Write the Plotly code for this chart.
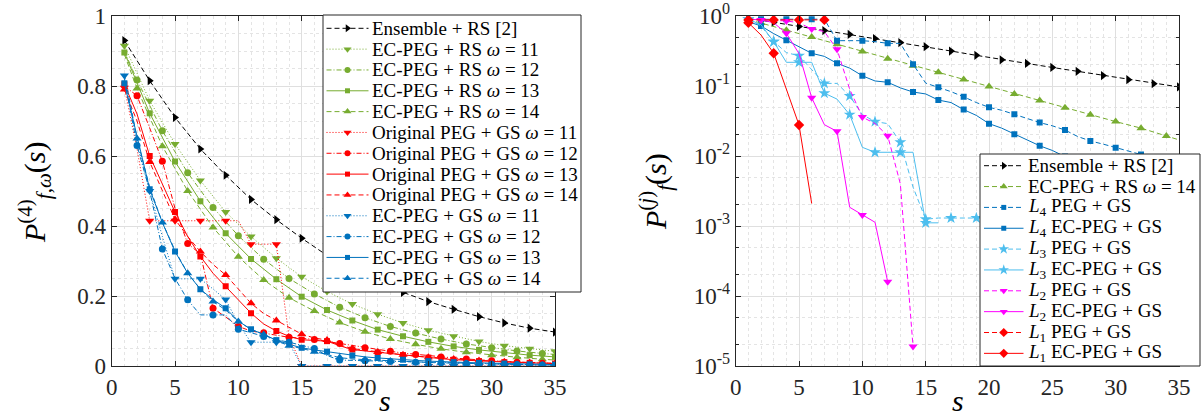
import plotly.graph_objects as go

# ---------------- data ----------------
S_FULL = list(range(1, 36))
S_ODD = list(range(1, 36, 2))
S_EVEN_ENDS = [1] + list(range(2, 35, 2)) + [35]

# Ensemble + RS [2]
ens_x = S_ODD
ens_y = [0.93, 0.815, 0.71, 0.62, 0.545, 0.476, 0.418, 0.365, 0.316, 0.274,
         0.237, 0.21, 0.184, 0.162, 0.141, 0.123, 0.108, 0.097]

# EC-PEG + RS
rs11_x = S_ODD
rs11_y = [0.915, 0.758, 0.634, 0.53, 0.44, 0.37, 0.308, 0.255, 0.213, 0.177,
          0.148, 0.123, 0.102, 0.085, 0.07, 0.058, 0.049, 0.042]
rs12_x = S_EVEN_ENDS
rs12_y = [0.90, 0.817, 0.672, 0.552, 0.453, 0.372, 0.305, 0.25, 0.206, 0.168,
          0.138, 0.113, 0.094, 0.077, 0.063, 0.052, 0.043, 0.036, 0.033]
rs13_x = S_ODD
rs13_y = [0.896, 0.722, 0.584, 0.471, 0.379, 0.306, 0.248, 0.198, 0.16, 0.13,
          0.104, 0.085, 0.069, 0.056, 0.046, 0.038, 0.031, 0.026]
rs14_x = S_EVEN_ENDS
rs14_y = [0.89, 0.793, 0.628, 0.5, 0.396, 0.312, 0.246, 0.195, 0.157, 0.124,
          0.098, 0.077, 0.062, 0.049, 0.039, 0.031, 0.025, 0.0193, 0.017]

# Original PEG + GS
og11_y = [0.795, 0.62, 0.415, 0.415, 0.415, 0.415, 0.415, 0.415, 0.415, 0.415,
          0.348, 0.348, 0.348, 0.085, 0, 0, 0, 0, 0, 0,
          0, 0, 0, 0, 0, 0, 0, 0, 0, 0, 0, 0, 0, 0, 0]
og12_y = [0.8, 0.772, 0.68, 0.585, 0.45, 0.35, 0.32, 0.165, 0.14, 0.113,
          0.1, 0.095, 0.088, 0.082, 0.079, 0.076, 0.07, 0.064, 0.058, 0.052,
          0.047, 0.042, 0.037, 0.033, 0.03, 0.026, 0.023, 0.02, 0.017, 0.015,
          0.013, 0.011, 0.009, 0.008, 0.007]
og13_y = [0.805, 0.72, 0.6, 0.52, 0.44, 0.37, 0.313, 0.265, 0.228, 0.19,
          0.151, 0.12, 0.1, 0.085, 0.075, 0.073, 0.071, 0.058, 0.047, 0.043,
          0.039, 0.035, 0.031, 0.027, 0.024, 0.021, 0.018, 0.016, 0.014, 0.012,
          0.011, 0.01, 0.009, 0.008, 0.007]
og14_y = [0.79, 0.7, 0.583, 0.5, 0.419, 0.37, 0.327, 0.29, 0.26, 0.22,
          0.179, 0.15, 0.13, 0.11, 0.091, 0.08, 0.074, 0.06, 0.05, 0.045,
          0.04, 0.036, 0.032, 0.028, 0.025, 0.022, 0.02, 0.018, 0.016, 0.014,
          0.012, 0.011, 0.01, 0.009, 0.008]

# EC-PEG + GS
gs11_y = [0.83, 0.64, 0.5, 0.37, 0.249, 0.249, 0.249, 0.22, 0.19, 0.12,
          0.068, 0.068, 0.068, 0.065, 0, 0, 0, 0, 0, 0,
          0, 0, 0, 0, 0, 0, 0, 0, 0, 0, 0, 0, 0, 0, 0]
gs12_y = [0.82, 0.63, 0.5, 0.334, 0.25, 0.189, 0.146, 0.146, 0.146, 0.105,
          0.095, 0.084, 0.075, 0.068, 0.058, 0.05, 0.03, 0.017, 0.016, 0.015,
          0.014, 0.013, 0.012, 0.011, 0.01, 0.009, 0.008, 0.007, 0.006, 0.005,
          0.005, 0.004, 0.004, 0.003, 0.003]
gs13_y = [0.808, 0.66, 0.505, 0.41, 0.327, 0.265, 0.219, 0.19, 0.165, 0.128,
          0.105, 0.09, 0.074, 0.062, 0.052, 0.046, 0.041, 0.035, 0.03, 0.026,
          0.023, 0.02, 0.018, 0.016, 0.014, 0.012, 0.011, 0.01, 0.009, 0.008,
          0.007, 0.006, 0.005, 0.005, 0.004]
gs14_y = [0.835, 0.65, 0.51, 0.41, 0.33, 0.265, 0.22, 0.184, 0.16, 0.127,
          0.105, 0.09, 0.072, 0.058, 0.05, 0.041, 0.032, 0.024, 0.02, 0.018,
          0.016, 0.014, 0.012, 0.011, 0.01, 0.009, 0.008, 0.007, 0.006, 0.005,
          0.004, 0.004, 0.003, 0.003, 0.002]

# Right panel: per-level failure probability
l4peg_y = [0.895, 0.9, 0.9, 0.9, 0.9, 0.9, 0.9, 0.444, 0.444, 0.444,
           0.43, 0.407, 0.407, 0.205, 0.11, 0.096, 0.083, 0.07, 0.058, 0.0496,
           0.045, 0.0394, 0.034, 0.03, 0.027, 0.0235, 0.019, 0.0164, 0.0148, 0.0131,
           0.0118, 0.0105, 0.0095, 0.0085, 0.0078]
l4ec_y = [0.83, 0.72, 0.56, 0.45, 0.365, 0.293, 0.265, 0.211, 0.18, 0.14,
          0.118, 0.113, 0.094, 0.082, 0.077, 0.063, 0.058, 0.046, 0.038, 0.029,
          0.025, 0.0204, 0.017, 0.014, 0.012, 0.0098, 0.0087, 0.0075, 0.0065, 0.0055,
          0.0048, 0.0042, 0.0037, 0.0032, 0.003]
l3peg_y = [0.9, 0.72, 0.43, 0.3, 0.27, 0.17, 0.109, 0.109, 0.072, 0.039,
           0.031, 0.029, 0.0157, 0.0036, 0.00125, 0.0013, 0.0013, 0.0013, 0.0013, 0.0013,
           0.0013, 0.0013, 0.0013, 0.0013, 0.0013, 0.0013, 0.0013, 0.0013, 0.0013, 0.0013,
           0.0013, 0.0013, 0.0013, 0.0013, 0.0013]
l3ec_x = list(range(1, 17))
l3ec_y = [0.9, 0.75, 0.43, 0.218, 0.218, 0.218, 0.079, 0.065, 0.039, 0.0133,
          0.0113, 0.0113, 0.0113, 0.0113, 0.00111, 0.00111]
l2peg_x = list(range(1, 15))
l2peg_y = [0.9, 0.88, 0.88, 0.85, 0.8, 0.65, 0.6, 0.334, 0.09, 0.036,
           0.029, 0.0195, 0.004, 1.9e-5]
l2ec_x = list(range(1, 13))
l2ec_y = [0.9, 0.88, 0.8, 0.565, 0.29, 0.068, 0.028, 0.0225, 0.00185, 0.00144,
          0.00113, 1.6e-4]
l1peg_x = list(range(1, 8))
l1peg_y = [0.88, 0.88, 0.88, 0.88, 0.88, 0.88, 0.88]
l1ec_x = list(range(1, 7))
l1ec_y = [0.8, 0.535, 0.293, 0.088, 0.0277, 0.0021]

# ---------------- styling ----------------
BLACK = "#000000"
GREEN = "#77AC30"
RED = "#FF0000"
BLUE = "#0072BD"
LBLUE = "#4DBEEE"
MAG = "#FF00FF"
DASH = "5px,3px"
DOT = "1px,2px"
DASHDOT = "5px,2px,1px,2px"
SOLID = "solid"
FONT = "'Liberation Serif', 'DejaVu Serif', 'Times New Roman', serif"
AXC = "#262626"

W, H = 1201, 419
fig = go.Figure()

legend_items = {1: [], 2: []}


def add_series(x, y, name, color, dash, symbol, parity, panel, ms=7):
    xa, ya = ("x", "y") if panel == 1 else ("x2", "y2")
    if panel == 2:
        pts = [(a, b) for a, b in zip(x, y) if b > 0]
        x = [p[0] for p in pts]
        y = [p[1] for p in pts]
    fig.add_trace(go.Scatter(x=x, y=y, mode="lines",
                             line=dict(color=color, dash=dash, width=1),
                             showlegend=False, hoverinfo="skip", xaxis=xa, yaxis=ya))
    mx = [a for a in x if (a % 2 == parity)]
    my = [b for a, b in zip(x, y) if (a % 2 == parity)]
    fig.add_trace(go.Scatter(x=mx, y=my, mode="markers", name=name,
                             marker=dict(symbol=symbol, color=color, size=ms,
                                         line=dict(width=0)),
                             showlegend=False, xaxis=xa, yaxis=ya))
    legend_items[panel].append((name, color, dash, symbol, ms))


om = "<i>ω</i>"
# Left panel
add_series(ens_x, ens_y, "Ensemble + RS [2]", BLACK, DASH, "triangle-right", 1, 1, 8)
add_series(rs11_x, rs11_y, f"EC-PEG + RS {om} = 11", GREEN, DOT, "triangle-down", 1, 1, 8)
add_series(rs12_x, rs12_y, f"EC-PEG + RS {om} = 12", GREEN, DASHDOT, "circle", 0, 1, 7)
add_series(rs13_x, rs13_y, f"EC-PEG + RS {om} = 13", GREEN, SOLID, "square", 1, 1, 6)
add_series(rs14_x, rs14_y, f"EC-PEG + RS {om} = 14", GREEN, DASH, "triangle-up", 0, 1, 8)
add_series(S_FULL, og11_y, f"Original PEG + GS {om} = 11", RED, DOT, "triangle-down", 1, 1, 8)
add_series(S_FULL, og12_y, f"Original PEG + GS {om} = 12", RED, DASHDOT, "circle", 0, 1, 7)
add_series(S_FULL, og13_y, f"Original PEG + GS {om} = 13", RED, SOLID, "square", 1, 1, 6)
add_series(S_FULL, og14_y, f"Original PEG + GS {om} = 14", RED, DASH, "triangle-up", 1, 1, 8)
add_series(S_FULL, gs11_y, f"EC-PEG + GS {om} = 11", BLUE, DOT, "triangle-down", 1, 1, 8)
add_series(S_FULL, gs12_y, f"EC-PEG + GS {om} = 12", BLUE, DASHDOT, "circle", 0, 1, 7)
add_series(S_FULL, gs13_y, f"EC-PEG + GS {om} = 13", BLUE, SOLID, "square", 1, 1, 6)
add_series(S_FULL, gs14_y, f"EC-PEG + GS {om} = 14", BLUE, DASH, "triangle-up", 0, 1, 8)

# Right panel
add_series(ens_x, ens_y, "Ensemble + RS [2]", BLACK, DASH, "triangle-right", 1, 2, 8)
add_series(rs14_x, rs14_y, f"EC-PEG + RS {om} = 14", GREEN, DASH, "triangle-up", 0, 2, 8)
add_series(S_FULL, l4peg_y, "<i>L</i><sub>4</sub> PEG + GS", BLUE, DASH, "square", 0, 2, 6)
add_series(S_FULL, l4ec_y, "<i>L</i><sub>4</sub> EC-PEG + GS", BLUE, SOLID, "square", 0, 2, 6)
add_series(S_FULL, l3peg_y, "<i>L</i><sub>3</sub> PEG + GS", LBLUE, DASH, "star", 1, 2, 9)
add_series(l3ec_x, l3ec_y, "<i>L</i><sub>3</sub> EC-PEG + GS", LBLUE, SOLID, "star", 1, 2, 9)
add_series(l2peg_x, l2peg_y, "<i>L</i><sub>2</sub> PEG + GS", MAG, DASH, "triangle-down", 0, 2, 8)
add_series(l2ec_x, l2ec_y, "<i>L</i><sub>2</sub> EC-PEG + GS", MAG, SOLID, "triangle-down", 0, 2, 8)
add_series(l1peg_x, l1peg_y, "<i>L</i><sub>1</sub> PEG + GS", RED, DASH, "diamond", 1, 2, 8)
add_series(l1ec_x, l1ec_y, "<i>L</i><sub>1</sub> EC-PEG + GS", RED, SOLID, "diamond", 1, 2, 8)

# ---------------- legends (drawn in a pixel-space overlay) ----------------
LEG = {
    1: dict(x0=323, x1=581, y0=15, y1=292, first=28.3, step=20.83,
            lx0=326.5, lx1=368.5, tx=370),
    2: dict(x0=980, x1=1200, y0=154, y1=366, first=165.7, step=20.85,
            lx0=984, lx1=1023.5, tx=1026),
}
for p, L in LEG.items():
    fig.add_trace(go.Scatter(x=[L["x0"], L["x1"], L["x1"], L["x0"], L["x0"]],
                             y=[L["y0"], L["y0"], L["y1"], L["y1"], L["y0"]],
                             mode="lines", fill="toself", fillcolor="white",
                             line=dict(color=AXC, width=1), showlegend=False,
                             hoverinfo="skip", xaxis="x3", yaxis="y3"))
    for i, (name, color, dash, symbol, ms) in enumerate(legend_items[p]):
        yc = L["first"] + i * L["step"]
        fig.add_trace(go.Scatter(x=[L["lx0"], L["lx1"]], y=[yc, yc], mode="lines",
                                 line=dict(color=color, dash=dash, width=1),
                                 showlegend=False, hoverinfo="skip", xaxis="x3", yaxis="y3"))
        fig.add_trace(go.Scatter(x=[(L["lx0"] + L["lx1"]) / 2], y=[yc], mode="markers",
                                 marker=dict(symbol=symbol, color=color, size=ms - 1,
                                             line=dict(width=0)),
                                 showlegend=False, hoverinfo="skip", xaxis="x3", yaxis="y3"))
        fig.add_annotation(text=name, x=L["tx"], y=yc, xref="x3", yref="y3",
                           xanchor="left", yanchor="middle", showarrow=False,
                           font=dict(family=FONT, size=19, color="#000000"))

top_px, bot_px = 16, 366
ydom = [1 - bot_px / H, 1 - top_px / H]

common_x = dict(range=[0, 35], tickvals=list(range(0, 36, 5)), ticks="inside", ticklen=5,
                tickcolor=AXC, showline=True, linecolor=AXC, linewidth=1, mirror="allticks",
                showgrid=True, gridcolor="#DFDFDF", gridwidth=1, zeroline=False, automargin=False,
                minor=dict(dtick=1, showgrid=True, gridcolor="#E4E4E4", griddash="dot", ticks=""),
                tickfont=dict(family=FONT, size=23, color=AXC))

fig.update_layout(
    template="none",
    width=W, height=H, margin=dict(l=0, r=0, t=0, b=0, pad=0, autoexpand=False),
    paper_bgcolor="white", plot_bgcolor="rgba(0,0,0,0)",
    showlegend=False,
    xaxis=dict(domain=[111.7 / W, 555 / W], anchor="y", **common_x),
    xaxis2=dict(domain=[735.7 / W, 1179 / W], anchor="y2", **common_x),
    yaxis=dict(domain=ydom, anchor="x", range=[0, 1], tickvals=[0, 0.2, 0.4, 0.6, 0.8, 1],
               ticktext=["0", "0.2", "0.4", "0.6", "0.8", "1"], automargin=False,
               ticks="inside", ticklen=5, tickcolor=AXC, showline=True, linecolor=AXC,
               linewidth=1, mirror="allticks", showgrid=True, gridcolor="#DFDFDF", zeroline=False,
               minor=dict(dtick=0.05, showgrid=True, gridcolor="#E4E4E4", griddash="dot", ticks=""),
               tickfont=dict(family=FONT, size=23, color=AXC)),
    yaxis2=dict(domain=ydom, anchor="x2", type="log", range=[-5, 0], automargin=False,
                tickvals=[1e-5, 1e-4, 1e-3, 1e-2, 1e-1, 1],
                ticktext=["10<sup>-5</sup>", "10<sup>-4</sup>", "10<sup>-3</sup>",
                          "10<sup>-2</sup>", "10<sup>-1</sup>", "10<sup>0</sup>"],
                ticks="inside", ticklen=5, tickcolor=AXC, showline=True, linecolor=AXC,
                linewidth=1, mirror="allticks", showgrid=True, gridcolor="#DFDFDF", zeroline=False,
                minor=dict(showgrid=True, gridcolor="#E4E4E4", griddash="dot", ticks="inside",
                           ticklen=3, tickcolor=AXC),
                tickfont=dict(family=FONT, size=23, color=AXC)),
    xaxis3=dict(domain=[0, 1], range=[0, W], anchor="y3", visible=False, fixedrange=True,
                automargin=False),
    yaxis3=dict(domain=[0, 1], range=[H, 0], anchor="x3", visible=False, fixedrange=True,
                automargin=False),
)

fig.add_annotation(text="<i>s</i>", x=385, y=400, xref="x3", yref="y3",
                   xanchor="center", yanchor="middle",
                   showarrow=False, font=dict(family=FONT, size=30, color="#000000"))
fig.add_annotation(text="<i>s</i>", x=958, y=400, xref="x3", yref="y3",
                   xanchor="center", yanchor="middle",
                   showarrow=False, font=dict(family=FONT, size=30, color="#000000"))
fig.add_annotation(text="<i>P</i><sup>(4)</sup><sub><i>f</i>,<i>ω</i></sub>(<i>s</i>)",
                   x=34, y=193, xref="x3", yref="y3", textangle=-90,
                   xanchor="center", yanchor="middle",
                   showarrow=False, font=dict(family=FONT, size=30, color="#000000"))
fig.add_annotation(text="<i>P</i><sup>(<i>j</i>)</sup><sub><i>f</i></sub>(<i>s</i>)",
                   x=655, y=192, xref="x3", yref="y3", textangle=-90,
                   xanchor="center", yanchor="middle",
                   showarrow=False, font=dict(family=FONT, size=30, color="#000000"))

fig.write_html("out.html")
